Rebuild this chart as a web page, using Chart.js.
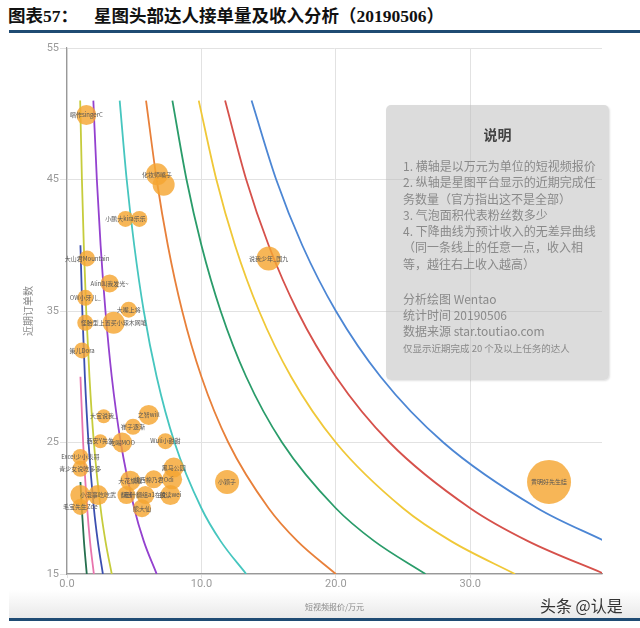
<!DOCTYPE html>
<html>
<head>
<meta charset="utf-8">
<script src="https://cdn.jsdelivr.net/npm/chart.js"></script>
<style>
  body { margin:0; width:640px; height:628px; position:relative; background:#fff; overflow:hidden; font-family:"Noto Sans CJK SC", sans-serif; }
  .title { position:absolute; left:8px; top:2px; font:bold 17.5px "Liberation Serif","Noto Sans CJK SC",serif; color:#111; white-space:nowrap; }
  .rule { position:absolute; left:9px; right:0; height:3px; background:#1f4b73; }
  .fade { position:absolute; left:9px; right:0; top:590px; height:28px; background:linear-gradient(#fff, #e9e9e9); }
  #chart { position:absolute; left:0; top:0; }
  .note { position:absolute; left:386px; top:105px; width:223px; height:275px; border-radius:5px;
          background:rgba(185,185,185,0.5); box-shadow:1px 1px 2px rgba(0,0,0,0.12); color:#8a8a8a; }
  .note .head { position:absolute; left:0; right:0; top:19px; text-align:center; font-weight:bold; font-size:14px; color:#444; }
  .note .body { position:absolute; left:17px; top:53px; font-size:12px; line-height:16.3px; white-space:nowrap; }
  .note .meta { position:absolute; left:17px; top:186px; font-size:12px; line-height:16px; white-space:nowrap; }
  .note .small { position:absolute; left:17px; top:236px; font-size:9.5px; white-space:nowrap; }
  .mark { position:absolute; left:540px; top:593px; font-size:16px; color:#333; white-space:nowrap; }
</style>
</head>
<body>
<div class="title">图表57：<span style="margin-left:16px">星图头部达人接单量及收入分析（20190506）</span></div>
<div class="rule" style="top:30px"></div>
<div class="fade"></div>
<canvas id="chart" width="640" height="628"></canvas>
<div class="note">
  <div class="head">说明</div>
  <div class="body">1. 横轴是以万元为单位的短视频报价<br>2. 纵轴是星图平台显示的近期完成任<br>务数量（官方指出这不是全部）<br>3. 气泡面积代表粉丝数多少<br>4. 下降曲线为预计收入的无差异曲线<br>（同一条线上的任意一点，收入相<br>等，越往右上收入越高）</div>
  <div class="meta">分析绘图 Wentao<br>统计时间 20190506<br>数据来源 star.toutiao.com</div>
  <div class="small">仅显示近期完成 20 个及以上任务的达人</div>
</div>
<div class="mark">头条 @认是</div>
<div class="rule" style="top:618px"></div>

<script>
/* axis ticks */
const X_TICKS = [0, 10, 20, 30];
const Y_TICKS = [15, 25, 35, 45, 55];

/* bubbles: price (10k yuan), recent orders, bubble radius (fans) */
const KOL_NAMES = [
  '唱作singerC', '化妆师嘴子', '', '小鹏大kira乐乐', '', '大山君Mountain', 'Alin叫我发光~',
  '说我少年_国九', 'OW小牙儿_', '大嘴上将', '', '怪胎型上置买小辣木网笔', '策儿Dora',
  '大宝说我_', '之智will', '崔子逐渐', '西安Y先生', '吃喝MOO', 'Wuli小甜甜',
  'Excel少小表哥', '青少女说吃多多', '黑马公园', '大花旗舰', '凯西棉乃君Odi', '',
  '小颖子', '', '小混事吃吃武', '翻迷', '老叶翻组a1在女', '朗读wei', '熊大仙',
  '毛宝先生Zoe', '黄明好先生娃'
];
const KOL_PRICE = [
  1.44, 6.70, 7.19, 4.35, 5.38, 1.49, 3.17,
  15.0, 1.36, 4.59, 1.36, 3.47, 1.12,
  2.73, 6.08, 4.91, 2.48, 4.10, 7.32,
  0.99, 0.99, 7.94, 4.71, 6.45, 7.82,
  11.91, 0.99, 2.30, 4.42, 5.83, 7.69, 5.58,
  0.99, 35.86
];
const KOL_ORDERS = [
  49.9, 45.4, 44.6, 42.0, 42.0, 39.0, 37.1,
  39.0, 36.0, 35.1, 34.1, 34.1, 32.0,
  27.0, 27.1, 26.2, 25.1, 25.0, 25.1,
  23.9, 23.0, 23.1, 22.1, 22.2, 22.2,
  22.0, 21.0, 21.0, 21.0, 21.0, 21.0, 20.0,
  20.1, 22.0
];
const KOL_FANS = [
  10, 11, 11, 8, 8, 8, 9,
  12, 8, 8, 8, 11, 8,
  7, 10, 8, 7, 10, 8,
  8, 8, 10, 10, 9, 10,
  12, 10, 10, 9, 9, 10, 9,
  8, 22
];

/* iso-income curves, points [price, orders] */
const CURVE_22 = [[1.0,22],[1.1,20],[1.26,17.5],[1.47,15]];
const CURVE_30 = [[1.0,30],[1.2,25],[1.5,20],[1.71,17.5],[2.0,15]];
const CURVE_40 = [[1.0,40],[1.14,35],[1.33,30],[1.6,25],[2.0,20],[2.29,17.5],[2.67,15]];
const CURVE_50 = [[0.98,51],[1.11,45],[1.25,40],[1.43,35],[1.67,30],[2.0,25],[2.5,20],[2.86,17.5],[3.33,15]];
const CURVE_100 = [[1.96,51],[2.22,45],[2.5,40],[2.86,35],[3.33,30],[4.0,25],[5.0,20],[5.71,17.5],[6.67,15]];
const CURVE_200 = [[3.92,51],[4.44,45],[5.0,40],[5.71,35],[6.67,30],[8.0,25],[10.0,20],[11.43,17.5],[13.33,15]];
const CURVE_300 = [[5.88,51],[6.67,45],[7.5,40],[8.57,35],[10.0,30],[12.0,25],[15.0,20],[17.14,17.5],[20.0,15]];
const CURVE_400 = [[7.84,51],[8.89,45],[10.0,40],[11.43,35],[13.33,30],[16.0,25],[20.0,20],[22.86,17.5],[26.67,15]];
const CURVE_500 = [[9.8,51],[11.11,45],[12.5,40],[14.29,35],[16.67,30],[20.0,25],[25.0,20],[28.57,17.5],[33.33,15]];
const CURVE_600 = [[11.76,51],[13.33,45],[15.0,40],[17.14,35],[20.0,30],[24.0,25],[30.0,20],[34.29,17.5],[40.0,15]];
const CURVE_700 = [[13.73,51],[15.56,45],[17.5,40],[20.0,35],[23.33,30],[28.0,25],[35.0,20],[40.0,17.5]];

const CURVES = [CURVE_22, CURVE_30, CURVE_40, CURVE_50, CURVE_100, CURVE_200,
                CURVE_300, CURVE_400, CURVE_500, CURVE_600, CURVE_700];
const CURVE_COLORS = ['#26704f', '#e874ad', '#3b4fb0', '#c6cc3c', '#9441cf', '#46c6bf',
                      '#e8803a', '#2a9c6a', '#f0c838', '#d6514b', '#4c86d4'];

Chart.defaults.font.family = 'Roboto, "Noto Sans CJK SC", sans-serif';

// names written on top of each bubble
const bubbleLabels = {
    id: 'bubbleLabels',
    afterDatasetsDraw(chart) {
        const c = chart.ctx;
        const meta = chart.getDatasetMeta(0);
        c.save();
        c.font = '6px "Noto Sans CJK SC"';
        c.fillStyle = '#555';
        c.textAlign = 'center';
        c.textBaseline = 'middle';
        meta.data.forEach((el, i) => {
            if (KOL_NAMES[i]) c.fillText(KOL_NAMES[i], el.x, el.y);
        });
        c.restore();
    }
};

const bubbleData = KOL_PRICE.map((p, i) => ({ x: p, y: KOL_ORDERS[i], r: KOL_FANS[i] }));

const datasets = [{
    type: 'bubble',
    data: bubbleData,
    backgroundColor: 'rgba(245,166,50,0.82)',
    borderWidth: 0,
    order: 0
}];
CURVES.forEach((pts, i) => {
    datasets.push({
        type: 'line',
        data: pts.map(p => ({ x: p[0], y: p[1] })),
        borderColor: CURVE_COLORS[i],
        borderWidth: 1.8,
        pointRadius: 0,
        fill: false,
        cubicInterpolationMode: 'monotone',
        order: 1
    });
});

const options = {
    responsive: false,
    animation: false,
    layout: { padding: { left: 0, right: 38, top: 48, bottom: 0 } },
    plugins: {
        legend: { display: false },
        tooltip: { enabled: false }
    },
    scales: {
        x: {
            type: 'linear',
            min: 0,
            max: 39.8,
            afterBuildTicks: (s) => { s.ticks = X_TICKS.map(v => ({ value: v })); },
            afterFit: (s) => { s.height = 54; },
            ticks: {
                color: '#9a9a9a',
                font: { size: 11 },
                padding: 0,
                callback: (v) => v.toFixed(1)
            },
            grid: { color: '#e2e2e2', tickLength: 4 },
            border: { color: '#999', width: 1.2 },
            title: {
                display: true,
                text: '短视频报价/万元',
                color: '#888',
                font: { size: 8, family: '"Noto Sans CJK SC"' },
                padding: { top: 0, bottom: 16 }
            }
        },
        y: {
            type: 'linear',
            min: 15,
            max: 55,
            afterBuildTicks: (s) => { s.ticks = Y_TICKS.map(v => ({ value: v })); },
            afterFit: (s) => { s.width = 67; },
            ticks: {
                color: '#9a9a9a',
                font: { size: 11 },
                padding: 1
            },
            grid: { color: '#e2e2e2', tickLength: 7 },
            border: { color: '#999', width: 1.2 },
            title: {
                display: true,
                text: '近期订单数',
                color: '#888',
                font: { size: 10, family: '"Noto Sans CJK SC"' },
                padding: { top: 22, bottom: 0 }
            }
        }
    }
};

const ctx = document.getElementById('chart');
const myChart = new Chart(
    ctx,
        {
            type: 'bubble',
            data: { datasets },
            options,
            plugins: [bubbleLabels]
        }
);
</script>
</body>
</html>
